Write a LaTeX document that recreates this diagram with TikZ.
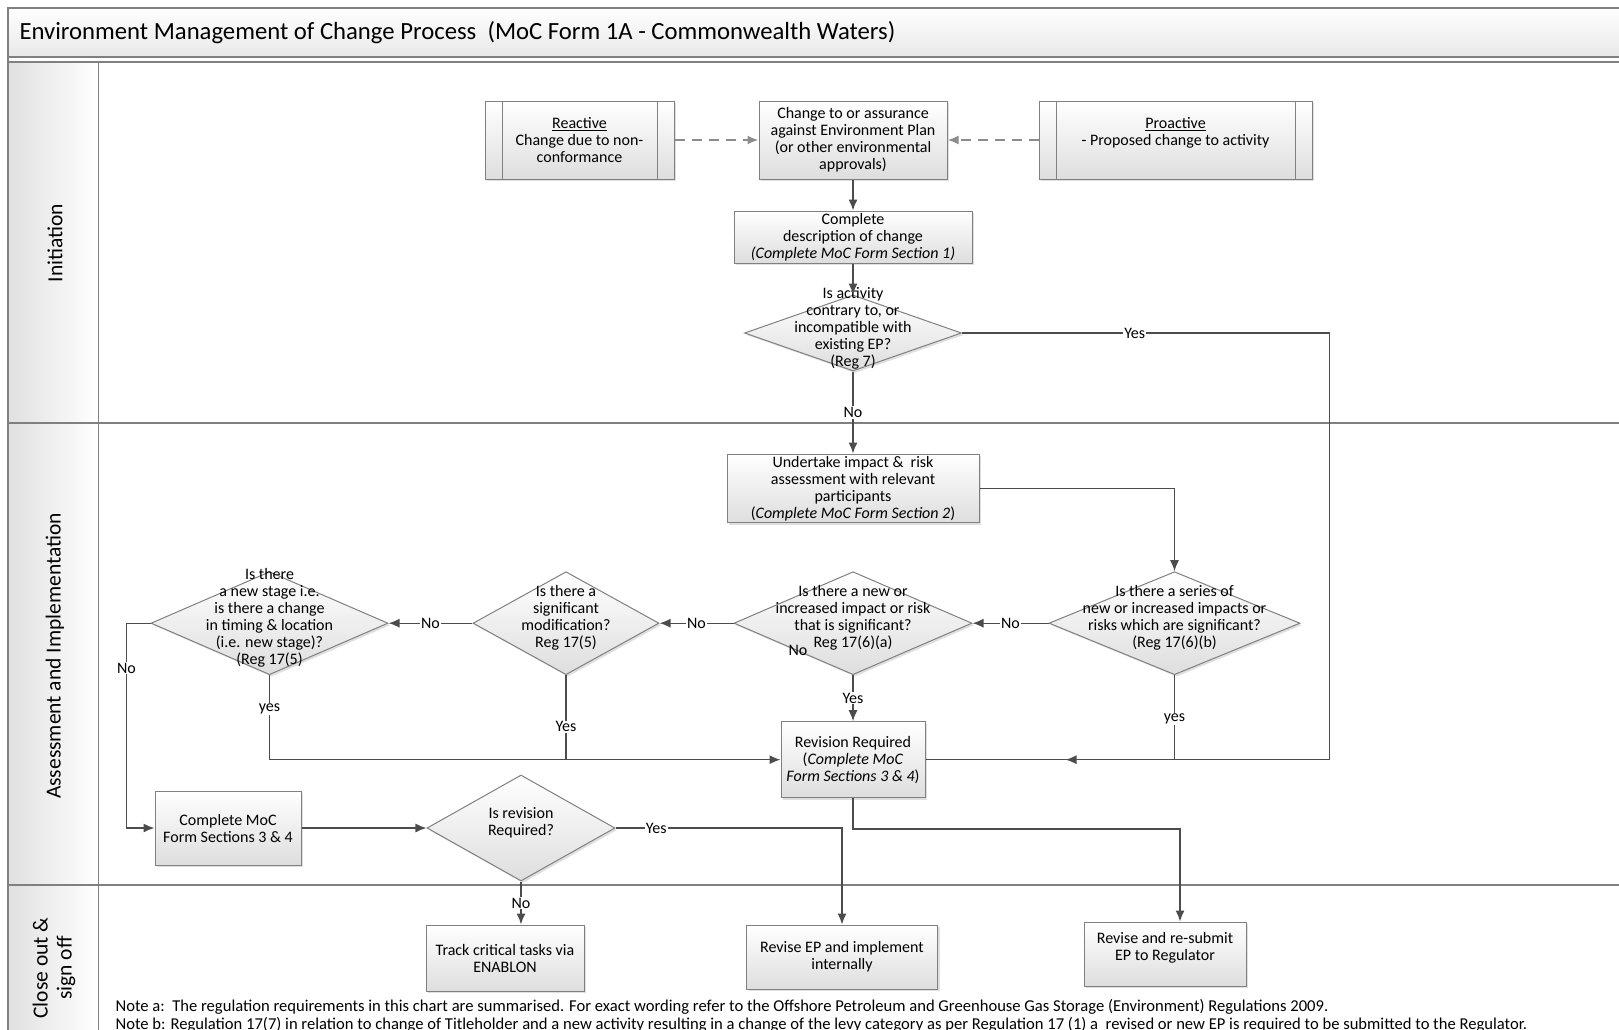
\documentclass[tikz,border=0pt]{standalone}
\usepackage{fontspec}
\setmainfont{Carlito}
\usetikzlibrary{shapes.geometric, arrows.meta, positioning, shadows}
\newcommand{\qtxt}[1]{\makebox[0pt]{\smash{\begin{tabular}{@{}c@{}}#1\end{tabular}}}}
\tikzset{
  block/.style={rectangle, draw=black!50, line width=1pt, top color=white, bottom color=black!13,
                drop shadow={opacity=0.25, shadow xshift=2pt, shadow yshift=-2pt},
                text centered, align=center, inner sep=2pt,
                font=\fontsize{16}{17}\selectfont},
  subproc/.style={block, path picture={
      \draw[black!50, line width=1pt]
        ([xshift=17pt]path picture bounding box.north west) -- ([xshift=17pt]path picture bounding box.south west)
        ([xshift=-17pt]path picture bounding box.north east) -- ([xshift=-17pt]path picture bounding box.south east);}},
  decision/.style={diamond, draw=black!50, line width=1pt, top color=white, bottom color=black!13,
                drop shadow={opacity=0.25, shadow xshift=2pt, shadow yshift=-2pt},
                inner sep=0pt, font=\fontsize{16}{17}\selectfont},
  arrow/.style={-{Latex[length=11pt, width=9pt]}, draw=black!70, line width=1.4pt},
  link/.style={draw=black!70, line width=1.4pt},
  dasharrow/.style={arrow, draw=black!45, line width=2pt, dash pattern=on 10pt off 7pt},
  lbl/.style={fill=white, inner sep=1pt, font=\fontsize{16}{17}\selectfont},
  lane/.style={draw=black!50, line width=1.6pt},
  lanetitle/.style={rotate=90, align=center, font=\fontsize{21.5}{24}\selectfont}
}

\begin{document}
\begin{tikzpicture}[node distance=31pt, x=1pt, y=-1pt]
    \useasboundingbox (0,0) rectangle (1619,1029);
    \clip (0,0) rectangle (1619,1029);
    \fill[white] (0,0) rectangle (1619,1029);

    % pool, header band and lanes
    \draw[lane, top color=white, bottom color=black!9] (8,8) rectangle (1680,57);
    \node[anchor=west, font=\fontsize{24.7}{28}\selectfont] (title) at (16,33)
        {Environment Management of Change Process\ \ (MoC Form 1A - Commonwealth Waters)};
    \shade[left color=black!12, right color=white] (8,62) rectangle (98,1060);
    \draw[lane] (8,62) -- (1680,62);
    \draw[lane] (8,8) -- (8,1060);
    \draw[lane, line width=1pt] (98,62) -- (98,1060);
    \draw[lane, line width=1.2pt] (8,423) -- (1680,423);
    \draw[lane, line width=2pt] (8,885) -- (1680,885);
    \node[lanetitle] (initlbl) at (55,243) {Initiation};
    \node[lanetitle] (assesslbl) at (55,656) {Assessment and Implementation};
    \node[lanetitle] (closelbl) at (54,968) {Close out \&\\sign off};

    % initiation
    \node[block, minimum width=188pt, minimum height=78pt] (chg) at (853,140)
        {Change to or assurance\\against Environment Plan\\(or other environmental\\approvals)};
    \node[subproc, minimum width=189pt, minimum height=78pt, left=84pt of chg] (react)
        {\underline{Reactive}\\Change due to non-\\conformance};
    \node[subproc, minimum width=273pt, minimum height=78pt, right=91pt of chg] (proact)
        {\underline{Proactive}\\- Proposed change to activity\hspace*{28pt}\\\mbox{}};
    \node[block, minimum width=238pt, minimum height=52pt, below=of chg] (desc)
        {Complete\\description of change\\\textit{(Complete MoC Form Section 1)}};
    \node[decision, minimum width=217pt, minimum height=76pt, below=of desc] (d7)
        {\qtxt{Is activity\\contrary to, or\\incompatible with\\existing EP?\\(Reg 7)}};

    % assessment and implementation
    \node[block, minimum width=252pt, minimum height=68pt, below=82pt of d7] (undertake)
        {Undertake impact \&\ \ risk\\assessment with relevant\\participants\\(\textit{Complete MoC Form Section 2})};
    \node[decision, minimum width=238pt, minimum height=103pt, below=48pt of undertake] (d6a)
        {\qtxt{Is there a new or\\increased impact or risk\\that is significant?\\Reg 17(6)(a)}};
    \node[decision, minimum width=251pt, minimum height=103pt, right=76pt of d6a] (d6b)
        {\qtxt{Is there a series of\\new or increased impacts or\\risks which are significant?\\(Reg 17(6)(b)}};
    \node[decision, minimum width=186pt, minimum height=103pt, left=74pt of d6a] (d5)
        {\qtxt{Is there a\\significant\\modification?\\Reg 17(5)}};
    \node[decision, minimum width=237pt, minimum height=103pt, left=84pt of d5] (dstage)
        {\qtxt{Is there\\a new stage i.e.\\is there a change\\in timing \& location\\(i.e. new stage)?\\(Reg 17(5)}};
    \node[block, minimum width=144pt, minimum height=76pt, below=46pt of d6a] (revreq)
        {Revision Required\\(\textit{Complete MoC}\\\textit{Form Sections 3 \& 4})};
    \node[block, minimum width=146pt, minimum height=74pt] (moc34) at (228,828)
        {Complete MoC\\Form Sections 3 \& 4};
    \node[decision, minimum width=188pt, minimum height=106pt, right=125pt of moc34] (drev)
        {\qtxt{Is revision\\Required?}};
    \node[font=\fontsize{16}{17}\selectfont] (strayno) at (798,650) {No};

    % close out
    \node[block, minimum width=158pt, minimum height=66pt] (track) at (505,958)
        {Track critical tasks via\\ENABLON};
    \node[block, minimum width=191pt, minimum height=64pt] (revep) at (842,957)
        {Revise EP and implement\\internally};
    \node[block, minimum width=162pt, minimum height=64pt] (resub) at (1165,954)
        {Revise and re-submit\\EP to Regulator\\[-1pt]};

    \path (revreq.east) ++(404pt,0) coordinate (yestrail);
    \path (revreq.east) ++(140pt,0) coordinate (yesjoin);
    \coordinate (resubbend) at (1180,829);

    \draw[dasharrow] (react) -- (chg);
    \draw[dasharrow] (proact) -- (chg);
    \draw[arrow] (chg) -- (desc);
    \draw[arrow] (desc) -- (d7);
    \draw[arrow] (d7) -- node[lbl]{No} (undertake);
    \draw[link] (d7.east) -- node[lbl, pos=0.47]{Yes} (d7.east -| yestrail) -- (yestrail) -- (revreq.east);
    \draw[arrow] (undertake) -| (d6b);
    \draw[arrow] (d6b) -- node[lbl]{No} (d6a);
    \draw[arrow] (d6a) -- node[lbl]{No} (d5);
    \draw[arrow] (d5) -- node[lbl]{No} (dstage);
    \draw[arrow] (d6a) -- node[lbl]{Yes} (revreq);
    \draw[arrow] (d6b.south) |- node[lbl, pos=0.26]{yes} (yesjoin);
    \draw[arrow] (dstage.south) |- node[lbl, pos=0.2]{yes} (revreq.west);
    \draw[link] (d5.south) -- node[lbl, pos=0.61]{Yes} (d5.south |- revreq.west);
    \draw[arrow] (dstage.west) -- ++(-24pt,0) |- node[lbl, pos=0.11]{No} (moc34.west);
    \draw[arrow] (moc34) -- (drev);
    \draw[arrow] (drev.east) -| node[lbl, pos=0.09]{Yes} (revep);
    \draw[arrow] (drev.south) -- node[lbl]{No} (drev.south |- track.north);
    \draw[arrow] (revreq.south) |- (resubbend) -- (resubbend |- resub.north);

    \node[anchor=west, font=\fontsize{16.6}{18}\selectfont] (notea) at (112,1007)
        {Note a:\ \ The regulation requirements in this chart are summarised. For exact wording refer to the Offshore Petroleum and Greenhouse Gas Storage (Environment) Regulations 2009.};
    \node[anchor=west, font=\fontsize{16.6}{18}\selectfont] (noteb) at (112,1025)
        {Note b: Regulation 17(7) in relation to change of Titleholder and a new activity resulting in a change of the levy category as per Regulation 17 (1) a\ \ revised or new EP is required to be submitted to the Regulator.};
\end{tikzpicture}
\end{document}
